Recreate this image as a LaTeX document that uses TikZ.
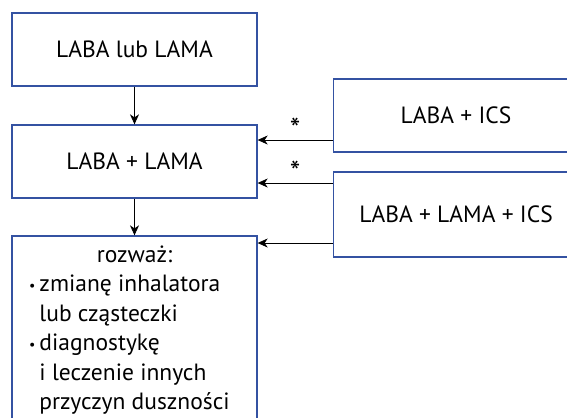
\documentclass[tikz,border=0pt]{standalone}
\usepackage{fontspec}
\setmainfont{PT Sans}
\usetikzlibrary{arrows.meta,positioning}
\definecolor{boxblue}{RGB}{52,82,162}
\newcommand{\bul}{\makebox[18bp][r]{\raisebox{1bp}{\fontsize{14bp}{14bp}\selectfont\textbullet}\hspace{4bp}}}
\newcommand{\ind}{\hspace*{18bp}}

\begin{document}
\begin{tikzpicture}[
        x=1bp, y=-1bp,
        box/.style={rectangle, draw=boxblue, line width=1.3bp, fill=white,
            minimum width=245bp, minimum height=73bp, inner sep=0pt,
            font=\fontsize{23.5bp}{29.5bp}\selectfont},
        arr/.style={line width=0.9bp, -{Stealth[length=10bp, width=9bp, inset=3bp]}},
        star/.style={above, inner sep=0pt, font=\fontsize{30bp}{30bp}\selectfont},
    ]
        \clip (0,0) rectangle (567,417);

        % Left column
        \node[box] (first) at (134.5,49.5) {LABA lub LAMA};
        \node[box] (dual) at (134.5,161.5) {LABA + LAMA};
        \node[box, minimum height=188bp, text width=226bp, align=flush left]
            (consider) at (134.5,330) {%
            \makebox[\linewidth]{rozważ:}\\
            \bul zmianę inhalatora\\
            \ind lub cząsteczki\\
            \bul diagnostykę\\
            \ind i leczenie innych\\
            \ind przyczyn duszności};

        % Right column
        \node[box] (ics) at (456,115.5) {LABA + ICS};
        \node[box, minimum height=85bp] (triple) at (456,214.5) {LABA + LAMA + ICS};

        % Down arrows
        \draw[arr] (first) -- (dual);
        \draw[arr] (dual) -- (consider);

        % Side arrows
        \draw[arr] (ics.west |- 0,140) -- node[star] {*} (dual.east |- 0,140);
        \draw[arr] (triple.west |- 0,183) -- node[star] {*} (dual.east |- 0,183);
        \draw[arr] (triple.west |- 0,243) -- (consider.east |- 0,243);
    \end{tikzpicture}
\end{document}
